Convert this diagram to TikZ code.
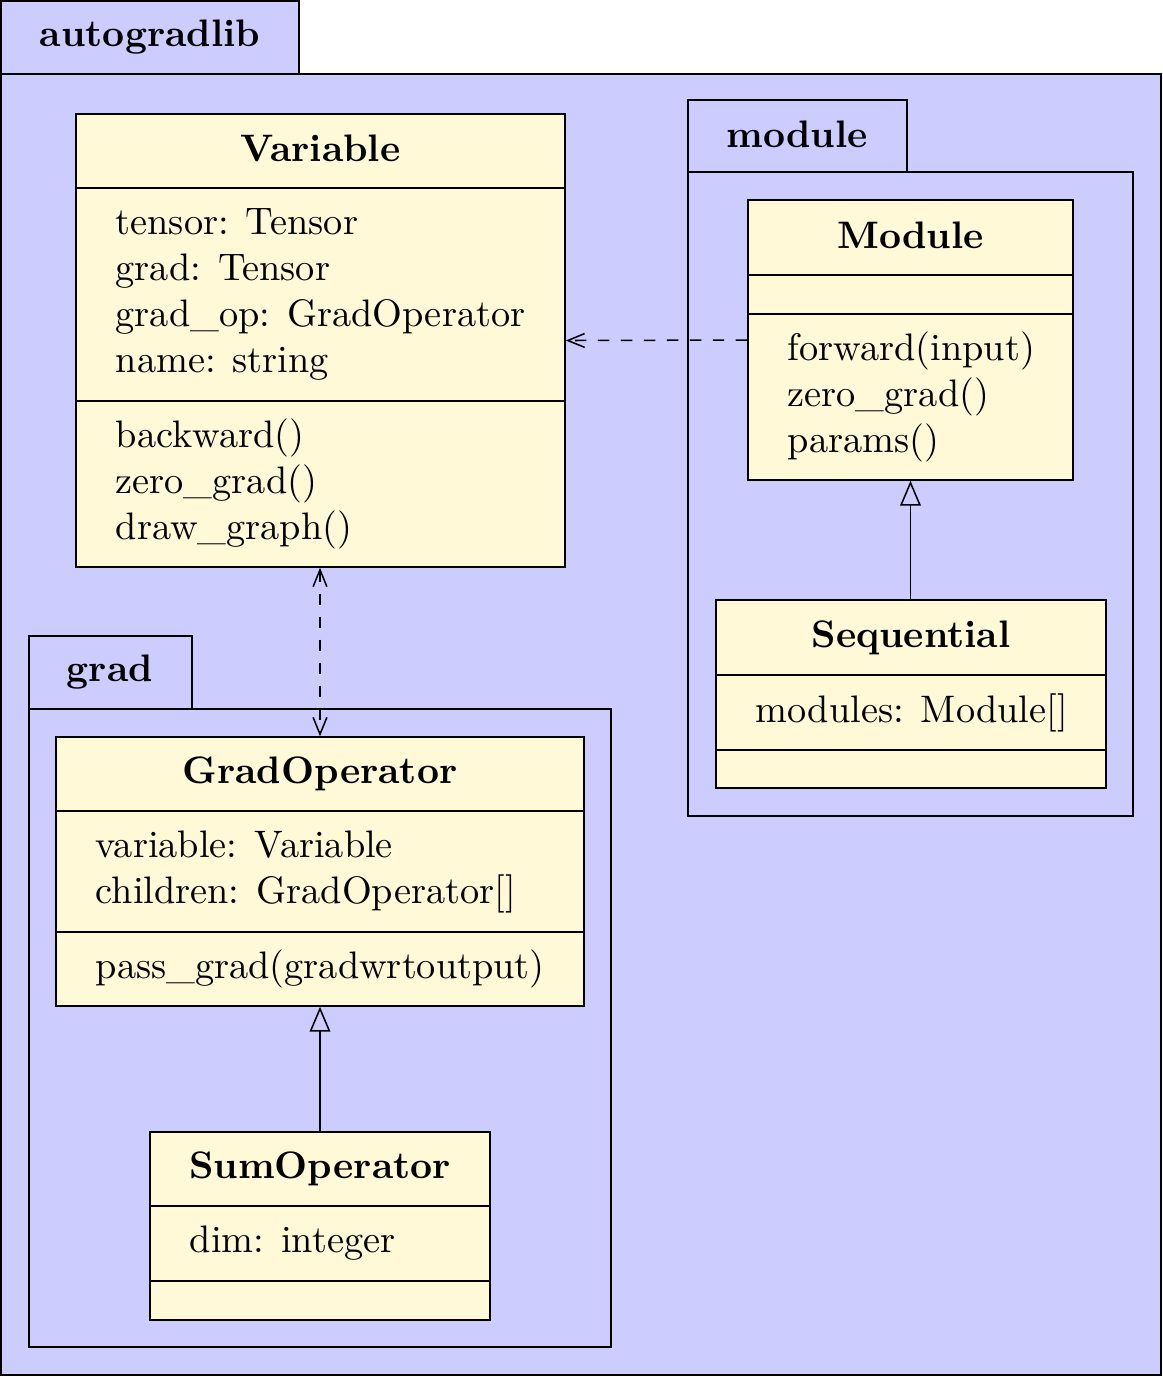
\documentclass[tikz,border=0pt]{standalone}
\usetikzlibrary{arrows.meta}
\definecolor{pkgblue}{RGB}{204,204,255}
\definecolor{classyellow}{RGB}{255,249,216}
\newlength\pxl
\setlength\pxl{0.261pt}
\tikzset{
    pkg/.style={draw, fill=pkgblue},
    pkgname/.style={font=\bfseries},
    umlbox/.style={draw, fill=classyellow, inner sep=0pt},
    umltitle/.style={font=\bfseries},
    members/.style={anchor=west, align=left, inner sep=0pt},
    inherit/.style={-{Triangle[open, length=6.5pt, width=5.4pt]}},
    depend/.style={dashed}
}
\begin{document}
\begin{tikzpicture}[x=0.261pt, y=-0.261pt, >={Straight Barb[length=4.4pt, width=3.6pt]}]
        \useasboundingbox (0,0) rectangle (1163,1377);
        % packages
        \draw[pkg] (1,1) rectangle (299,74);
        \draw[pkg] (1,74) rectangle (1161,1375);
        \node[pkgname] (autogradlib) at (150,37) {autogradlib};
        \draw[pkg] (688,100) rectangle (907,172);
        \draw[pkg] (688,172) rectangle (1133,816);
        \node[pkgname] (module) at (797,134) {module};
        \draw[pkg] (29,636) rectangle (192,709);
        \draw[pkg] (29,709) rectangle (611,1347);
        \node[pkgname] (grad) at (110,672) {grad};
        % classes
        \node[umlbox, minimum width=489*\pxl, minimum height=453*\pxl] (var) at (320.5,340.5) {};
        \foreach \y in {188,401} \draw (76,\y) -- (565,\y);
        \node[umltitle] (vartitle) at (320.5,148) {Variable};
        \node[members] (varattr) at (115,294.5) {tensor: Tensor\\grad: Tensor\\grad\_op: GradOperator\\name: string};
        \node[members] (varops) at (115,484) {backward()\\zero\_grad()\\draw\_graph()};

        \node[umlbox, minimum width=325*\pxl, minimum height=280*\pxl] (mod) at (910.5,340) {};
        \foreach \y in {275,314} \draw (748,\y) -- (1073,\y);
        \node[umltitle] (modtitle) at (910.5,235) {Module};
        \node[members] (modops) at (787,397) {forward(input)\\zero\_grad()\\params()};

        \node[umlbox, minimum width=390*\pxl, minimum height=188*\pxl] (seq) at (911,694) {};
        \foreach \y in {675,750} \draw (716,\y) -- (1106,\y);
        \node[umltitle] (seqtitle) at (911,637.5) {Sequential};
        \node[members] (seqattr) at (755,712.5) {modules: Module[]};

        \node[umlbox, minimum width=528*\pxl, minimum height=269*\pxl] (gop) at (320,871.5) {};
        \foreach \y in {811,932} \draw (56,\y) -- (584,\y);
        \node[umltitle] (goptitle) at (320,774) {GradOperator};
        \node[members] (gopattr) at (95,871.5) {variable: Variable\\children: GradOperator[]};
        \node[members] (gopops) at (95,969) {pass\_grad(gradwrtoutput)};

        \node[umlbox, minimum width=340*\pxl, minimum height=188*\pxl] (sum) at (320,1226) {};
        \foreach \y in {1206,1281} \draw (150,\y) -- (490,\y);
        \node[umltitle] (sumtitle) at (320,1169) {SumOperator};
        \node[members] (sumattr) at (189,1243.5) {dim: integer};
        % relations
        \draw[depend, ->] (mod.west) -- (var.east);
        \draw[depend, <->] (gop.north |- var.south) -- (gop.north);
        \draw[inherit] (mod.south |- seq.north) -- (mod.south);
        \draw[inherit] (sum.north) -- (gop.south);
\end{tikzpicture}
\end{document}
